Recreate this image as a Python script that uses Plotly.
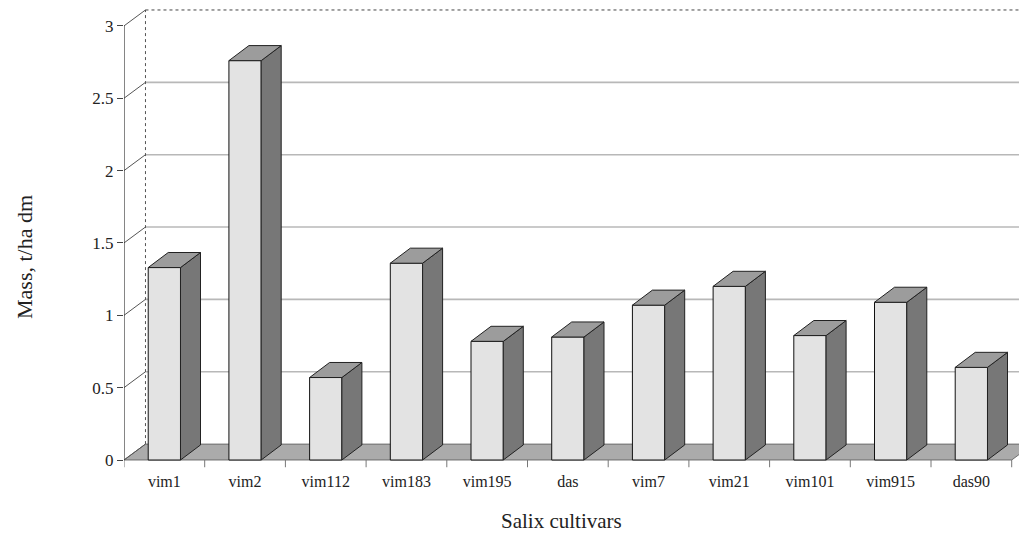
import plotly.graph_objects as go

cultivars = ["vim1", "vim2", "vim112", "vim183", "vim195", "das",
             "vim7", "vim21", "vim101", "vim915", "das90"]
mass = [1.33, 2.76, 0.57, 1.36, 0.82, 0.85, 1.07, 1.20, 0.86, 1.09, 0.64]
y_ticks = [0, 0.5, 1, 1.5, 2, 2.5, 3]

# 3D-look geometry (data units)
FDX, FDY = 0.266, 0.11    # floor / back wall depth offset
BDX, BDY = 0.248, 0.104   # bar depth offset
BW = 0.40                 # bar front width
n = len(cultivars)
x_left, x_right = -0.5, n - 0.5

FONT = "Liberation Serif, Times New Roman, serif"

fig = go.Figure()

shapes = []
# floor
shapes.append(dict(type="path", layer="below",
                   path=f"M {x_left},0 L {x_right},0 L {x_right+FDX},{FDY} L {x_left+FDX},{FDY} Z",
                   fillcolor="#ababab", line=dict(color="#555555", width=0.8)))
# back wall gridlines
for v in y_ticks[1:-1]:
    shapes.append(dict(type="line", layer="below", x0=x_left + FDX, x1=x_right + 1,
                       y0=v + FDY, y1=v + FDY, line=dict(color="#b8b8b8", width=1.6)))
# back wall top edge and left edge (dotted)
shapes.append(dict(type="line", layer="below", x0=x_left + FDX, x1=x_right + 1,
                   y0=y_ticks[-1] + FDY, y1=y_ticks[-1] + FDY,
                   line=dict(color="#444444", width=1, dash="dot")))
shapes.append(dict(type="line", layer="below", x0=x_left + FDX, x1=x_left + FDX,
                   y0=FDY, y1=y_ticks[-1] + FDY,
                   line=dict(color="#555555", width=1, dash="dot")))
# side wall connectors from front axis ticks to back wall
for v in y_ticks:
    shapes.append(dict(type="line", layer="below", x0=x_left, x1=x_left + FDX,
                       y0=v, y1=v + FDY, line=dict(color="#555555", width=1)))
# front value axis line
shapes.append(dict(type="line", layer="below", x0=x_left, x1=x_left,
                   y0=0, y1=y_ticks[-1], line=dict(color="#333333", width=1.2)))
# category tick marks
for k in range(n + 1):
    shapes.append(dict(type="line", layer="below", x0=x_left + k, x1=x_left + k,
                       y0=0, y1=-0.05, line=dict(color="#777777", width=1)))

# bar front faces
fig.add_trace(go.Bar(x=list(range(n)), y=mass, width=BW,
                     marker=dict(color="#e3e3e3", line=dict(color="#111111", width=1)),
                     hoverinfo="skip", showlegend=False))

# bar side faces and top faces
sx, sy, tx, ty = [], [], [], []
for i, v in enumerate(mass):
    r = i + BW / 2
    l = i - BW / 2
    sx += [r, r + BDX, r + BDX, r, r, None]
    sy += [0, BDY, v + BDY, v, 0, None]
    tx += [l, r, r + BDX, l + BDX, l, None]
    ty += [v, v, v + BDY, v + BDY, v, None]
fig.add_trace(go.Scatter(x=sx, y=sy, mode="lines", fill="toself",
                         fillcolor="#777777", line=dict(color="#222222", width=1),
                         hoverinfo="skip", showlegend=False))
fig.add_trace(go.Scatter(x=tx, y=ty, mode="lines", fill="toself",
                         fillcolor="#9c9c9c", line=dict(color="#222222", width=1),
                         hoverinfo="skip", showlegend=False))

# page offset (default body margin of the html page)
OFF = 8
W, H = 1027 - OFF, 534 - OFF
PLOT_LEFT, PLOT_TOP, PLOT_BOTTOM = 124, 8, 470   # page pixels
L = PLOT_LEFT - OFF
T = PLOT_TOP - OFF
B = H - (PLOT_BOTTOM - OFF)
R = 0
px_per_cat = 80.7
px_per_unit = 144.7
plot_w = W - L - R
plot_h = H - T - B
xr = [x_left, x_left + plot_w / px_per_cat]
y_bottom = -(PLOT_BOTTOM - 460) / px_per_unit
yr = [y_bottom, y_bottom + plot_h / px_per_unit]


def px_x(p):
    return (p - PLOT_LEFT) / plot_w


def px_y(p):
    return (PLOT_BOTTOM - p) / plot_h


fig.update_layout(
    width=W, height=H,
    margin=dict(l=L, r=R, t=T, b=B),
    plot_bgcolor="white", paper_bgcolor="white",
    shapes=shapes,
    font=dict(family=FONT, color="#222222"),
    xaxis=dict(range=xr, tickmode="array", tickvals=list(range(n)), ticktext=cultivars,
               showgrid=False, zeroline=False, showline=False, ticks="",
               tickfont=dict(size=16, family=FONT, color="#222222")),
    yaxis=dict(range=yr, tickmode="array", tickvals=y_ticks,
               ticktext=[f"{t:g}" for t in y_ticks],
               showgrid=False, zeroline=False, showline=False,
               ticks="outside", ticklen=6, tickcolor="#444444",
               tickfont=dict(size=17, family=FONT, color="#222222")),
    annotations=[
        dict(text="Mass, t/ha dm", xref="paper", yref="paper",
             x=px_x(24), y=px_y(257),
             xanchor="center", yanchor="middle", textangle=-90, showarrow=False,
             font=dict(size=22, family=FONT, color="#222222")),
        dict(text="Salix cultivars", xref="paper", yref="paper",
             x=px_x(561.5), y=px_y(521),
             xanchor="center", yanchor="middle", showarrow=False,
             font=dict(size=21, family=FONT, color="#222222")),
    ],
)

fig.write_html("out.html")
